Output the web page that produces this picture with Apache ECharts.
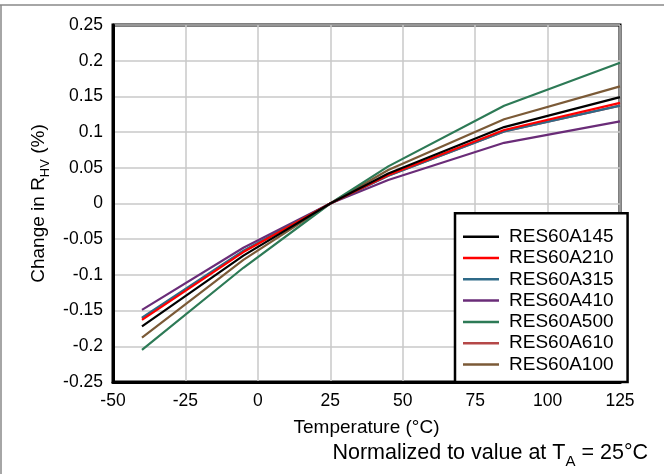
<!DOCTYPE html>
<html>
<head>
<meta charset="utf-8">
<script src="https://cdn.jsdelivr.net/npm/echarts@6/dist/echarts.min.js"></script>
<style>
  html, body { margin: 0; padding: 0; background: #fff; }
  #chart { width: 664px; height: 474px; }
</style>
</head>
<body>
<div id="chart"></div>
<script>
  'use strict'

  // temperatures (degC) where the curves were sampled
  var temps = [-40, -5, 25, 45, 85, 125];

  // change in R_HV (%) per part
  var res145 = [-0.172, -0.073, 0, 0.042, 0.107, 0.149];
  var res210 = [-0.163, -0.068, 0, 0.040, 0.103, 0.141];
  var res315 = [-0.160, -0.066, 0, 0.039, 0.101, 0.137];
  var res410 = [-0.149, -0.062, 0, 0.033, 0.085, 0.115];
  var res500 = [-0.205, -0.090, 0, 0.052, 0.137, 0.197];
  var res610 = [-0.161, -0.067, 0, 0.039, 0.101, 0.137];
  var res100 = [-0.188, -0.079, 0, 0.047, 0.118, 0.164];

  var names = ['RES60A145', 'RES60A210', 'RES60A315', 'RES60A410', 'RES60A500', 'RES60A610', 'RES60A100'];
  var values = [res145, res210, res315, res410, res500, res610, res100];
  var colors = ['#000000', '#ff0000', '#2f6a88', '#6a2c78', '#2d7a56', '#b54848', '#7b5a37'];

  var fontFamily = 'Liberation Sans, Arial, sans-serif';

  var series = names.map(function (n, i) {
    return {
      name: n,
      type: 'line',
      data: temps.map(function (t, j) { return [t, values[i][j]]; }),
      symbol: 'none',
      lineStyle: { width: 2.2 },
      z: 10 - i
    };
  });

  var chart = echarts.init(document.getElementById('chart'));

  var option = {
    animation: false,
    color: colors,
    textStyle: { fontFamily: fontFamily },
    grid: {
      left: 113,
      right: 44,
      top: 25,
      bottom: 92,
      show: true,
      borderColor: '#000',
      borderWidth: 3
    },
    xAxis: {
      type: 'value',
      min: -50,
      max: 125,
      interval: 25,
      name: 'Temperature (°C)',
      nameLocation: 'middle',
      nameGap: 36,
      nameTextStyle: { fontSize: 19, color: '#000', fontFamily: fontFamily },
      axisLine: { onZero: false, lineStyle: { color: '#000', width: 3 } },
      axisTick: { show: false },
      axisLabel: { fontSize: 17.5, color: '#000', margin: 10 },
      splitLine: { lineStyle: { color: '#c8c8c8', width: 1.5 } }
    },
    yAxis: {
      type: 'value',
      min: -0.25,
      max: 0.25,
      interval: 0.05,
      name: '{a|Change in R}{s|HV}{a| (%)}',
      nameLocation: 'middle',
      nameGap: 62,
      nameTextStyle: {
        rich: {
          a: { fontSize: 19, color: '#000', fontFamily: fontFamily, lineHeight: 22, verticalAlign: 'bottom' },
          s: { fontSize: 13, color: '#000', fontFamily: fontFamily, lineHeight: 22, verticalAlign: 'bottom', padding: [0, 0, -4, 0] }
        }
      },
      axisLine: { onZero: false, lineStyle: { color: '#000', width: 3 } },
      axisTick: { show: false },
      axisLabel: {
        fontSize: 17.5,
        color: '#000',
        margin: 10,
        formatter: function (v) { return String(Math.round(v * 100) / 100); }
      },
      splitLine: { lineStyle: { color: '#c8c8c8', width: 1.5 } }
    },
    legend: {
      orient: 'vertical',
      left: 455,
      bottom: 92,
      padding: [14, 14, 8, 8],
      itemWidth: 36,
      itemHeight: 14,
      itemGap: 2.3,
      backgroundColor: '#fff',
      borderColor: '#000',
      borderWidth: 2.5,
      icon: 'path://M0,6 L36,6 L36,8.5 L0,8.5 Z',
      textStyle: { fontSize: 19, color: '#000', fontFamily: fontFamily, lineHeight: 18, padding: [0, 0, 0, 5] },
      data: names
    },
    graphic: [
      {
        type: 'line',
        shape: { x1: 0, y1: 5, x2: 664, y2: 5 },
        style: { stroke: '#888', lineWidth: 1.5 }
      },
      {
        type: 'line',
        shape: { x1: 1, y1: 5, x2: 1, y2: 474 },
        style: { stroke: '#888', lineWidth: 1.5 }
      },
      {
        type: 'text',
        right: 16,
        top: 442,
        style: {
          text: '{a|Normalized to value at T}{s|A}{a| = 25°C}',
          rich: {
            a: { fontSize: 21.5, fill: '#000', fontFamily: fontFamily, lineHeight: 25, verticalAlign: 'bottom' },
            s: { fontSize: 15, fill: '#000', fontFamily: fontFamily, lineHeight: 25, verticalAlign: 'bottom', padding: [0, 0, -5, 0] }
          }
        }
      }
    ],
    series: series
  };

  chart.setOption(option);
</script>
</body>
</html>
